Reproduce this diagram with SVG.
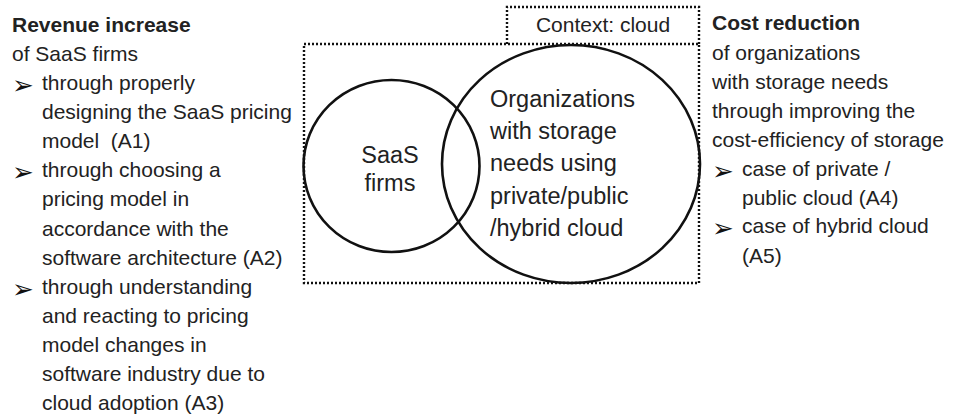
<svg xmlns="http://www.w3.org/2000/svg" width="961" height="417" viewBox="0 0 961 417">
  <style>
    text { font-family: "Liberation Sans", Arial, sans-serif; font-size: 21px; fill: #222; }
    .b { font-weight: bold; }
    .bul { font-family: "DejaVu Sans", sans-serif; font-size: 26px; fill: #111; }
    .mid { text-anchor: middle; }
    .big { font-size: 23.5px; }
    .pre { white-space: pre; }
    .dot { fill: none; stroke: #111; stroke-width: 2.4; stroke-dasharray: 2 2; }
    .ring { fill: none; stroke: #111; stroke-width: 2.6; }
  </style>

  <!-- Left column: revenue increase of SaaS firms -->
  <g id="revenue">
    <text class="b" x="12" y="32">Revenue increase</text>
    <text x="12" y="61">of SaaS firms</text>
    <text class="bul" x="12" y="94">➢</text>
    <text x="42" y="90">through properly</text>
    <text x="42" y="119">designing the SaaS pricing</text>
    <text class="pre" x="42" y="148">model  (A1)</text>
    <text class="bul" x="12" y="181">➢</text>
    <text x="42" y="177">through choosing a</text>
    <text x="42" y="206">pricing model in</text>
    <text x="42" y="236">accordance with the</text>
    <text x="42" y="265">software architecture (A2)</text>
    <text class="bul" x="12" y="298">➢</text>
    <text x="42" y="294">through understanding</text>
    <text x="42" y="323">and reacting to pricing</text>
    <text x="42" y="352">model changes in</text>
    <text x="42" y="381">software industry due to</text>
    <text x="42" y="410">cloud adoption (A3)</text>
  </g>

  <!-- Context frame: outer dotted box plus the label tab on its top edge -->
  <g id="context">
    <rect class="dot" x="304" y="44" width="395" height="239"/>
    <path class="dot" d="M507,44 V7 H699 V44"/>
    <text class="mid" x="603" y="32">Context: cloud</text>
  </g>

  <!-- SaaS firms set -->
  <g id="saas">
    <ellipse class="ring" cx="391.5" cy="166" rx="88" ry="86"/>
    <text class="mid big" x="390" y="163">SaaS</text>
    <text class="mid big" x="390" y="191">firms</text>
  </g>

  <!-- Organizations with storage needs set -->
  <g id="organizations">
    <ellipse class="ring" cx="571" cy="164" rx="129" ry="119"/>
    <text class="big" x="490" y="107">Organizations</text>
    <text class="big" x="490" y="139">with storage</text>
    <text class="big" x="490" y="171">needs using</text>
    <text class="big" x="490" y="204">private/public</text>
    <text class="big" x="490" y="236">/hybrid cloud</text>
  </g>

  <!-- Right column: cost reduction -->
  <g id="cost">
    <text class="b" x="712" y="30">Cost reduction</text>
    <text x="712" y="60">of organizations</text>
    <text x="712" y="89">with storage needs</text>
    <text x="712" y="118">through improving the</text>
    <text x="712" y="147">cost-efficiency of storage</text>
    <text class="bul" x="712" y="180">➢</text>
    <text x="742" y="176">case of private /</text>
    <text x="742" y="205">public cloud (A4)</text>
    <text class="bul" x="712" y="237">➢</text>
    <text x="742" y="233">case of hybrid cloud</text>
    <text x="742" y="263">(A5)</text>
  </g>

  <g id="connectors"></g>
</svg>
